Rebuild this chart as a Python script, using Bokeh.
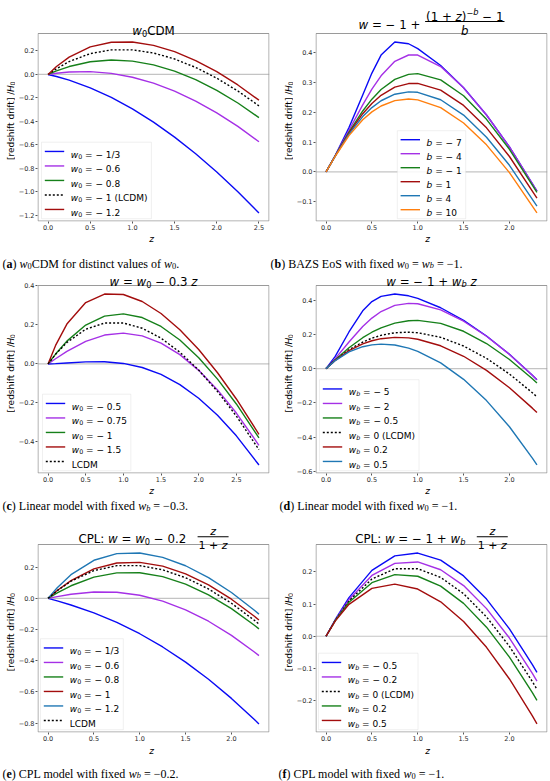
import math
from bokeh.plotting import figure
from bokeh.models import Range1d, FixedTicker, CustomJSTickFormatter, Label, Span, BoxAnnotation
from bokeh.layouts import column, row
from bokeh.embed import file_html
from bokeh.resources import INLINE

# ---------------- data: [redshift drift] / H0 ----------------
# (a) w0CDM
Z_A = [0.0, 0.1, 0.25, 0.5, 0.75, 1.0, 1.25, 1.5, 1.75, 2.0, 2.25, 2.5]
A_W0_M13 = [0.0, -0.0172, -0.0483, -0.1138, -0.1958, -0.2935, -0.4063, -0.5337, -0.6751, -0.8301, -0.9984, -1.1794]
A_W0_M06 = [0.0, 0.0104, 0.0210, 0.0244, 0.0096, -0.0233, -0.0739, -0.1417, -0.2261, -0.3264, -0.4421, -0.5726]
A_W0_M08 = [0.0, 0.0302, 0.0675, 0.1083, 0.1232, 0.1137, 0.0815, 0.0284, -0.0443, -0.1352, -0.2432, -0.3676]
A_LCDM = [0.0, 0.0492, 0.1097, 0.1778, 0.2095, 0.2098, 0.1829, 0.1321, 0.0600, -0.0315, -0.1409, -0.2670]
A_W0_M12 = [0.0, 0.0674, 0.1480, 0.2350, 0.2743, 0.2761, 0.2477, 0.1941, 0.1186, 0.0235, -0.0893, -0.2187]
A_LABELS = ["\u2212 1/3", "\u2212 0.6", "\u2212 0.8", "\u2212 1 (LCDM)", "\u2212 1.2"]
A_XTICKS = [0.0, 0.5, 1.0, 1.5, 2.0, 2.5]
A_YTICKS = [-1.2, -1.0, -0.8, -0.6, -0.4, -0.2, 0.0, 0.2]

# (b) BAZS EoS
Z_B = [0.0, 0.1, 0.25, 0.4, 0.5, 0.6, 0.75, 0.9, 1.0, 1.25, 1.5, 1.75, 2.0, 2.3]
B_M7 = [0.0, 0.0547, 0.1483, 0.2574, 0.3306, 0.3907, 0.4344, 0.4287, 0.4124, 0.3558, 0.2815, 0.1905, 0.0837, -0.0645]
B_M4 = [0.0, 0.0542, 0.1395, 0.2245, 0.2767, 0.3216, 0.3699, 0.3911, 0.3909, 0.3525, 0.2812, 0.1905, 0.0837, -0.0645]
B_M1 = [0.0, 0.0537, 0.1332, 0.2040, 0.2434, 0.2756, 0.3095, 0.3264, 0.3288, 0.3080, 0.2548, 0.1759, 0.0758, -0.0682]
B_P1 = [0.0, 0.0534, 0.1301, 0.1948, 0.2292, 0.2564, 0.2835, 0.2956, 0.2960, 0.2735, 0.2225, 0.1475, 0.0517, -0.0874]
B_P4 = [0.0, 0.0531, 0.1264, 0.1852, 0.2153, 0.2381, 0.2599, 0.2679, 0.2663, 0.2414, 0.1901, 0.1162, 0.0223, -0.1142]
B_P10 = [0.0, 0.0525, 0.1216, 0.1745, 0.2008, 0.2205, 0.2384, 0.2439, 0.2412, 0.2149, 0.1637, 0.0907, -0.0021, -0.1371]
B_LABELS = ["\u2212 7", "\u2212 4", "\u2212 1", "1", "4", "10"]
B_XTICKS = [0.0, 0.5, 1.0, 1.5, 2.0]
B_YTICKS = [-0.1, 0.0, 0.1, 0.2, 0.3, 0.4]

# (c) linear, wb = -0.3
Z_C = [0.0, 0.1, 0.25, 0.5, 0.75, 1.0, 1.25, 1.5, 1.75, 2.0, 2.25, 2.5, 2.8]
C_M05 = [0.0, 0.0017, 0.0051, 0.0104, 0.0109, 0.0025, -0.0183, -0.0540, -0.1063, -0.1759, -0.2633, -0.3685, -0.5177]
C_M075 = [0.0, 0.0267, 0.0644, 0.1159, 0.1480, 0.1577, 0.1439, 0.1068, 0.0475, -0.0329, -0.1331, -0.2518, -0.4170]
C_M1 = [0.0, 0.0505, 0.1169, 0.1991, 0.2449, 0.2565, 0.2377, 0.1920, 0.1226, 0.0319, -0.0778, -0.2052, -0.3795]
C_M15 = [0.0, 0.0948, 0.2042, 0.3144, 0.3581, 0.3557, 0.3200, 0.2585, 0.1755, 0.0736, -0.0451, -0.1796, -0.3605]
C_LCDM = [0.0, 0.0492, 0.1097, 0.1778, 0.2095, 0.2098, 0.1829, 0.1321, 0.0600, -0.0315, -0.1409, -0.2670, -0.4391]
C_LABELS = ["\u2212 0.5", "\u2212 0.75", "\u2212 1", "\u2212 1.5", None]
C_XTICKS = [0.0, 0.5, 1.0, 1.5, 2.0, 2.5]
C_YTICKS = [-0.4, -0.2, 0.0, 0.2, 0.4]

# (d) linear, w0 = -1
Z_D = [0.0, 0.1, 0.25, 0.4, 0.5, 0.6, 0.75, 0.9, 1.0, 1.25, 1.5, 1.75, 2.0, 2.25, 2.3]
D_M5 = [0.0, 0.0715, 0.2141, 0.3377, 0.3914, 0.4220, 0.4356, 0.4253, 0.4104, 0.3555, 0.2814, 0.1905, 0.0837, -0.0384, -0.0645]
D_M2 = [0.0, 0.0582, 0.1553, 0.2458, 0.2952, 0.3334, 0.3691, 0.3814, 0.3787, 0.3429, 0.2768, 0.1889, 0.0831, -0.0385, -0.0647]
D_M05 = [0.0, 0.0514, 0.1216, 0.1805, 0.2125, 0.2384, 0.2657, 0.2796, 0.2818, 0.2644, 0.2181, 0.1467, 0.0534, -0.0592, -0.0839]
D_0 = [0.0, 0.0492, 0.1097, 0.1553, 0.1778, 0.1946, 0.2095, 0.2131, 0.2098, 0.1829, 0.1321, 0.0600, -0.0315, -0.1409, -0.1648]
D_P02 = [0.0, 0.0482, 0.1049, 0.1446, 0.1628, 0.1749, 0.1828, 0.1794, 0.1715, 0.1335, 0.0722, -0.0100, -0.1115, -0.2308, -0.2567]
D_P05 = [0.0, 0.0469, 0.0974, 0.1281, 0.1389, 0.1430, 0.1377, 0.1197, 0.1012, 0.0338, -0.0624, -0.1868, -0.3396, -0.5223, -0.5626]
D_LABELS = ["\u2212 5", "\u2212 2", "\u2212 0.5", "0 (LCDM)", "0.2", "0.5"]
D_XTICKS = [0.0, 0.5, 1.0, 1.5, 2.0]
D_YTICKS = [-0.6, -0.4, -0.2, 0.0, 0.2, 0.4]

# (e) CPL, wb = -0.2
Z_E = [0.0, 0.1, 0.25, 0.5, 0.75, 1.0, 1.25, 1.5, 1.75, 2.0, 2.25, 2.3]
E_M13 = [0.0, -0.0162, -0.0426, -0.0935, -0.1546, -0.2271, -0.3119, -0.4091, -0.5191, -0.6418, -0.7771, -0.8057]
E_M06 = [0.0, 0.0113, 0.0260, 0.0405, 0.0390, 0.0197, -0.0179, -0.0736, -0.1469, -0.2374, -0.3442, -0.3675]
E_M08 = [0.0, 0.0349, 0.0807, 0.1362, 0.1636, 0.1640, 0.1392, 0.0914, 0.0224, -0.0661, -0.1726, -0.1960]
E_M1 = [0.0, 0.0500, 0.1139, 0.1889, 0.2264, 0.2308, 0.2065, 0.1573, 0.0858, -0.0056, -0.1153, -0.1393]
E_M12 = [0.0, 0.0683, 0.1518, 0.2440, 0.2868, 0.2905, 0.2627, 0.2090, 0.1329, 0.0372, -0.0765, -0.1013]
E_LCDM = [0.0, 0.0492, 0.1097, 0.1778, 0.2095, 0.2098, 0.1829, 0.1321, 0.0600, -0.0315, -0.1409, -0.1648]
E_LABELS = ["\u2212 1/3", "\u2212 0.6", "\u2212 0.8", "\u2212 1", "\u2212 1.2", None]
E_XTICKS = [0.0, 0.5, 1.0, 1.5, 2.0]
E_YTICKS = [-0.8, -0.6, -0.4, -0.2, 0.0, 0.2]

# (f) CPL, w0 = -1
Z_F = [0.0, 0.1, 0.25, 0.5, 0.75, 1.0, 1.25, 1.5, 1.75, 2.0, 2.25, 2.3]
F_M05 = [0.0, 0.0513, 0.1200, 0.2047, 0.2497, 0.2585, 0.2363, 0.1874, 0.1154, 0.0229, -0.0882, -0.1125]
F_M02 = [0.0, 0.0500, 0.1139, 0.1889, 0.2264, 0.2308, 0.2065, 0.1573, 0.0858, -0.0056, -0.1153, -0.1393]
F_0 = [0.0, 0.0492, 0.1097, 0.1778, 0.2095, 0.2098, 0.1829, 0.1321, 0.0600, -0.0315, -0.1409, -0.1648]
F_P02 = [0.0, 0.0483, 0.1055, 0.1664, 0.1914, 0.1864, 0.1556, 0.1021, 0.0281, -0.0647, -0.1750, -0.1990]
F_P05 = [0.0, 0.0470, 0.0992, 0.1486, 0.1619, 0.1466, 0.1069, 0.0459, -0.0345, -0.1328, -0.2477, -0.2726]
F_LABELS = ["\u2212 0.5", "\u2212 0.2", "0 (LCDM)", "0.2", "0.5"]
F_XTICKS = [0.0, 0.5, 1.0, 1.5, 2.0]
F_YTICKS = [-0.2, -0.1, 0.0, 0.1, 0.2]

# ---------------- style ----------------
BLUE = "#0a0af5"
PURPLE = "#a530e6"
GREEN = "#16801a"
RED = "#a30d0d"
TBLUE = "#1f77b4"
ORANGE = "#ff7f0e"
BLACK = "#000000"
SOLID = "solid"
DOT = "2 2"
LW = 1.4

SANS = "DejaVu Sans"
SERIF = "Liberation Serif"
FW, FH = 232, 188          # plot-area size in px
PAGE_W = 550
BOTTOM = 12                # room for the x tick labels

SANS_ADV = {' ': 0.318, '(': 0.390, ')': 0.390, '+': 0.838, '=': 0.838, '\u2212': 0.838, '.': 0.318,
            '/': 0.337, ':': 0.337, '[': 0.390, ']': 0.390, 'A': 0.684, 'B': 0.686, 'C': 0.698,
            'D': 0.770, 'L': 0.557, 'M': 0.863, 'P': 0.603, 'H': 0.752, 'a': 0.613, 'b': 0.635,
            'c': 0.550, 'd': 0.635, 'e': 0.615, 'f': 0.352, 'h': 0.634, 'i': 0.278, 'l': 0.278,
            'n': 0.634, 'o': 0.612, 'r': 0.411, 's': 0.521, 't': 0.392, 'u': 0.634, 'w': 0.818,
            'z': 0.525}
for _d in "0123456789":
    SANS_ADV[_d] = 0.636
SERIF_R = {' ': 0.25, '(': 0.333, ')': 0.333, '.': 0.25, '=': 0.564, '\u2212': 0.564, '+': 0.564,
           'A': 0.722, 'B': 0.667, 'C': 0.667, 'D': 0.722, 'E': 0.611, 'L': 0.611, 'M': 0.889,
           'P': 0.556, 'S': 0.556, 'Z': 0.611, 'a': 0.444, 'b': 0.5, 'c': 0.444, 'd': 0.5, 'e': 0.444,
           'f': 0.333, 'h': 0.5, 'i': 0.278, 'l': 0.278, 'm': 0.778, 'n': 0.5, 'o': 0.5, 'r': 0.333,
           's': 0.389, 't': 0.278, 'u': 0.5, 'v': 0.5, 'w': 0.722, 'x': 0.5, 'z': 0.444}
for _d in "0123456789":
    SERIF_R[_d] = 0.5
SERIF_B = {'a': 0.5, 'b': 0.556, 'c': 0.444, 'd': 0.556, 'e': 0.444, 'f': 0.333}
SERIF_I = {'w': 0.667, 'b': 0.5, 'z': 0.389}

STYLE = {"r": "normal", "b": "bold", "i": "italic", "sub": "normal", "subi": "italic",
         "sup": "normal", "supi": "italic"}
SHIFT = {"sub": 0.2, "subi": 0.2, "sup": -0.4, "supi": -0.4}


def run_width(text, fam, kind, size):
    scale = 0.7 if kind in SHIFT else 1.0
    total = 0.0
    for ch in text:
        if fam == SANS:
            total += SANS_ADV.get(ch, 0.6)
        else:
            tab = {"normal": SERIF_R, "bold": SERIF_B, "italic": SERIF_I}[STYLE[kind]]
            total += tab.get(ch, SERIF_R.get(ch, 0.5))
    return total * size * scale


def runs_width(runs, fam, size):
    return sum(run_width(t, fam, k, size) for t, k in runs)


def rich(p, runs, px, py, size, fam, conv, align="left", angle=0.0, color="black"):
    """Place a sequence of styled text runs; leading blanks are turned into offsets
    because SVG text drops them."""
    total = runs_width(runs, fam, size)
    pos = {"left": 0.0, "center": -total / 2, "right": -total}[align]
    ca, sa = math.cos(angle), math.sin(angle)
    for text, kind in runs:
        s = size * (0.7 if kind in SHIFT else 1.0)
        shift = SHIFT.get(kind, 0.0) * size
        body = text.strip(" ")
        lead = run_width(text[:len(text) - len(text.lstrip(" "))], fam, kind, size)
        if body:
            q = pos + lead
            x = px + q * ca + shift * sa
            y = py - q * sa + shift * ca
            X, Y = conv(x, y)
            p.add_layout(Label(x=X, y=Y, text=body, text_font=fam, text_font_size="%.2fpx" % s,
                               text_font_style=STYLE[kind], text_color=color,
                               text_baseline="alphabetic", text_align="left", angle=angle))
        pos += run_width(text, fam, kind, size)
    return total


def hbar(p, conv, xa, xb, py, th=0.9):
    X1, Y1 = conv(xa, py - th / 2)
    X2, Y2 = conv(xb, py + th / 2)
    p.add_layout(BoxAnnotation(left=X1, right=X2, top=Y1, bottom=Y2, fill_color="black",
                               fill_alpha=1.0, line_alpha=0.0))


def padded(lo, hi, frac=0.05):
    s = hi - lo
    return lo - frac * s, hi + frac * s


def strip(width, height):
    """A text-only canvas whose frame is the whole canvas (pixel coordinates, y down)."""
    s = figure(width=width, height=height, x_range=Range1d(0, width), y_range=Range1d(0, height),
               toolbar_location=None, output_backend="svg", title=None,
               x_axis_location=None, y_axis_location=None, min_border=0)
    s.outline_line_color = None
    s.xgrid.visible = False
    s.ygrid.visible = False
    s.background_fill_color = "white"
    s.border_fill_color = "white"

    def conv(px, py):
        return px, height - py
    return s, conv


def make_panel(z, series, xticks, yticks, right, top_ext):
    """Frame = title band (top_ext px) + plot area (FW x FH)."""
    allv = [v for vals, _, _ in series for v in vals]
    x0, x1 = padded(min(z), max(z))
    y0, y1 = padded(min(allv), max(allv))
    ytop = y1 + top_ext / FH * (y1 - y0)
    p = figure(frame_width=FW, frame_height=FH + top_ext, x_range=Range1d(x0, x1),
               y_range=Range1d(y0, ytop), toolbar_location=None, output_backend="svg", title=None,
               min_border_left=20, min_border_right=right, min_border_top=0,
               min_border_bottom=BOTTOM)
    p.xgrid.visible = False
    p.ygrid.visible = False
    p.outline_line_color = None
    p.background_fill_color = "white"
    p.border_fill_color = "white"
    for ax, ticks in ((p.xaxis[0], xticks), (p.yaxis[0], yticks)):
        ax.ticker = FixedTicker(ticks=ticks)
        ax.formatter = CustomJSTickFormatter(code="return tick.toFixed(1).replace('-', '\u2212');")
        ax.axis_line_color = None
        ax.major_tick_in = 0
        ax.major_tick_out = 2
        ax.major_tick_line_color = "#555555"
        ax.minor_tick_line_color = None
        ax.major_label_text_font = SANS
        ax.major_label_text_font_size = "6.5px"
        ax.major_label_text_color = "#2a2a2a"
        ax.major_label_standoff = 1

    def conv(px, py):
        return x0 + px / FW * (x1 - x0), y1 - py / FH * (y1 - y0)

    p.add_layout(Span(location=0, dimension="width", line_color="#c4c4c4", line_width=1.2,
                      level="underlay"))
    for vals, color, dash in series:
        p.line(z, vals, line_color=color, line_width=LW, line_dash=dash)
    # axes box of the plot area (kept half a pixel inside the frame edges)
    bl, bb = conv(0.5, FH - 0.5)
    br, bt = conv(FW - 0.5, 0.0)
    p.quad(left=[bl], right=[br], bottom=[bb], top=[bt], fill_color=None,
           line_color="#9a9a9a", line_width=1)
    return p, conv


def ylabel_strip(height, center):
    s, k = strip(15, height)
    rich(s, [("[redshift drift] / ", "r"), ("H", "i"), ("0", "sub")], 10.3, center, 9.0,
         SANS, k, align="center", angle=math.pi / 2)
    return s


def entry_runs(var, sub, val):
    if val is None:
        return [("LCDM", "r")]
    runs = [(var, "i")]
    if sub:
        runs.append((sub, "subi" if sub.isalpha() else "sub"))
    runs.append((" = " + val, "r"))
    return runs


def legend(p, conv, series, labels, var, sub, left=4.0, center=False, size=9.0, spacing=14.5):
    entries = [(entry_runs(var, sub, lab), c, d) for lab, (_, c, d) in zip(labels, series)]
    widths = [runs_width(r, SANS, size) for r, _, _ in entries]
    box_w = 29.3 + max(widths) + 4.0
    box_h = len(entries) * spacing + 4.0
    if center:
        left = (FW - box_w) / 2
    bottom = FH - 2.8
    top = bottom - box_h
    bl, bt = conv(left, top)
    br, bb = conv(left + box_w, bottom)
    p.add_layout(BoxAnnotation(left=bl, right=br, top=bt, bottom=bb, fill_color="white",
                               fill_alpha=0.85, line_color="#cccccc", line_width=1))
    for i, (runs, color, dash) in enumerate(entries):
        cy = top + 2.0 + spacing * (i + 0.5)
        xa, ya = conv(left + 3.3, cy)
        xb, _ = conv(left + 22.7, cy)
        p.segment(x0=[xa], y0=[ya], x1=[xb], y1=[ya], line_color=color, line_width=LW,
                  line_dash=dash, level="overlay")
        rich(p, runs, left + 29.3, cy + 0.34 * size, size, SANS, conv)


TS = 11.8   # title size
FS = 11.0   # fraction size
CS = 12.0   # caption size
XL = 9.0    # x label size

TOP1, TOP2, TOP3 = 33, 15, 24

# ---------------- row 1 ----------------
SA = [(A_W0_M13, BLUE, SOLID), (A_W0_M06, PURPLE, SOLID), (A_W0_M08, GREEN, SOLID),
      (A_LCDM, BLACK, DOT), (A_W0_M12, RED, SOLID)]
pa, ca = make_panel(Z_A, SA, A_XTICKS, A_YTICKS, 9, TOP1)
rich(pa, [("w", "i"), ("0", "sub"), ("CDM", "r")], FW / 2, -2.5, TS, SANS, ca, align="center")
legend(pa, ca, SA, A_LABELS, "w", "0")

SB = [(B_M7, BLUE, SOLID), (B_M4, PURPLE, SOLID), (B_M1, GREEN, SOLID), (B_P1, RED, SOLID),
      (B_P4, TBLUE, SOLID), (B_P10, ORANGE, SOLID)]
pb, cb = make_panel(Z_B, SB, B_XTICKS, B_YTICKS, 7, TOP1)
main_b = [("w", "i"), (" = \u2212 1 + ", "r")]
num_b = [("(1 + ", "r"), ("z", "i"), (")", "r"), ("\u2212", "sup"), ("b", "supi"), (" \u2212 1", "r")]
wm = runs_width(main_b, SANS, TS)
wn = runs_width(num_b, SANS, TS)
st = FW / 2 - (wm + 3.0 + wn) / 2
rich(pb, main_b, st, -9.0, TS, SANS, cb)
hbar(pb, cb, st + wm + 1.0, st + wm + 3.0 + wn, -12.0)
rich(pb, num_b, st + wm + 2.0, -16.3, TS, SANS, cb)
rich(pb, [("b", "i")], st + wm + 2.0 + wn / 2, -2.4, TS, SANS, cb, align="center")
legend(pb, cb, SB, B_LABELS, "b", None, center=True, spacing=14.0)

# ---------------- row 2 ----------------
SC = [(C_M05, BLUE, SOLID), (C_M075, PURPLE, SOLID), (C_M1, GREEN, SOLID), (C_M15, RED, SOLID),
      (C_LCDM, BLACK, DOT)]
pc, cc = make_panel(Z_C, SC, C_XTICKS, C_YTICKS, 9, TOP2)
rich(pc, [("w", "i"), (" = ", "r"), ("w", "i"), ("0", "sub"), (" \u2212 0.3 ", "r"), ("z", "i")],
     FW / 2, -3.6, TS, SANS, cc, align="center")
legend(pc, cc, SC, C_LABELS, "w", "0", left=5.0)

SD = [(D_M5, BLUE, SOLID), (D_M2, PURPLE, SOLID), (D_M05, GREEN, SOLID), (D_0, BLACK, DOT),
      (D_P02, RED, SOLID), (D_P05, TBLUE, SOLID)]
pd_, cd = make_panel(Z_D, SD, D_XTICKS, D_YTICKS, 7, TOP2)
rich(pd_, [("w", "i"), (" = \u2212 1 + ", "r"), ("w", "i"), ("b", "subi"), (" ", "r"), ("z", "i")],
     FW / 2, -3.6, TS, SANS, cd, align="center")
legend(pd_, cd, SD, D_LABELS, "w", "b")


# ---------------- row 3 ----------------
def cpl_title(p, conv, main):
    num = [("z", "i")]
    den = [("1 + ", "r"), ("z", "i")]
    wmain = runs_width(main, SANS, TS)
    wden = runs_width(den, SANS, FS)
    gap = 11.4
    s0_ = FW / 2 - (wmain + gap + wden + 2.0) / 2
    rich(p, main, s0_, -5.3, TS, SANS, conv)
    fx = s0_ + wmain + gap
    hbar(p, conv, fx, fx + wden + 2.0, -7.7)
    rich(p, num, fx + 1.0 + wden / 2, -13.0, FS, SANS, conv, align="center")
    rich(p, den, fx + 1.0, 1.0, FS, SANS, conv)


SE = [(E_M13, BLUE, SOLID), (E_M06, PURPLE, SOLID), (E_M08, GREEN, SOLID), (E_M1, RED, SOLID),
      (E_M12, TBLUE, SOLID), (E_LCDM, BLACK, DOT)]
pe, ce = make_panel(Z_E, SE, E_XTICKS, E_YTICKS, 9, TOP3)
cpl_title(pe, ce, [("CPL: ", "r"), ("w", "i"), (" = ", "r"), ("w", "i"), ("0", "sub"),
                   (" \u2212 0.2", "r")])
legend(pe, ce, SE, E_LABELS, "w", "0", left=3.0)

SF = [(F_M05, BLUE, SOLID), (F_M02, PURPLE, SOLID), (F_0, BLACK, DOT), (F_P02, GREEN, SOLID),
      (F_P05, RED, SOLID)]
pf, cf = make_panel(Z_F, SF, F_XTICKS, F_YTICKS, 7, TOP3)
cpl_title(pf, cf, [("CPL: ", "r"), ("w", "i"), (" = \u2212 1 + ", "r"), ("w", "i"), ("b", "subi")])
legend(pf, cf, SF, F_LABELS, "w", "b", left=3.0)

# ---------------- strips: x labels and captions ----------------
CX_L = 35 + FW / 2
CX_R = 311 + FW / 2

s1, k1 = strip(PAGE_W, 37)
rich(s1, [("z", "i")], CX_L, 5.6, XL, SANS, k1, align="center")
rich(s1, [("z", "i")], CX_R, 5.6, XL, SANS, k1, align="center")
rich(s1, [("(", "r"), ("a", "b"), (") ", "r"), ("w", "i"), ("0", "sub"),
          ("CDM for distinct values of ", "r"), ("w", "i"), ("0", "sub"), (".", "r")],
     2, 30.0, CS, SERIF, k1)
rich(s1, [("(", "r"), ("b", "b"), (") BAZS EoS with fixed ", "r"), ("w", "i"), ("0", "sub"),
          (" = ", "r"), ("w", "i"), ("b", "subi"), (" = \u22121.", "r")],
     270, 30.0, CS, SERIF, k1)

s2, k2 = strip(PAGE_W, 35)
rich(s2, [("z", "i")], CX_L, 5.4, XL, SANS, k2, align="center")
rich(s2, [("z", "i")], CX_R, 5.4, XL, SANS, k2, align="center")
rich(s2, [("(", "r"), ("c", "b"), (") Linear model with fixed ", "r"), ("w", "i"), ("b", "subi"),
          (" = \u22120.3.", "r")], 2, 20.5, CS, SERIF, k2)
rich(s2, [("(", "r"), ("d", "b"), (") Linear model with fixed ", "r"), ("w", "i"), ("0", "sub"),
          (" = \u22121.", "r")], 279, 20.5, CS, SERIF, k2)

s3, k3 = strip(PAGE_W, 37)
rich(s3, [("z", "i")], CX_L, 6.0, XL, SANS, k3, align="center")
rich(s3, [("z", "i")], CX_R, 6.0, XL, SANS, k3, align="center")
rich(s3, [("(", "r"), ("e", "b"), (") CPL model with fixed ", "r"), ("w", "i"), ("b", "subi"),
          (" = \u22120.2.", "r")], 2, 29.0, CS, SERIF, k3)
rich(s3, [("(", "r"), ("f", "b"), (") CPL model with fixed ", "r"), ("w", "i"), ("0", "sub"),
          (" = \u22121.", "r")], 278, 29.0, CS, SERIF, k3)

H1, H2, H3 = TOP1 + FH + BOTTOM, TOP2 + FH + BOTTOM, TOP3 + FH + BOTTOM
layout = column(
    row(ylabel_strip(H1, TOP1 + FH / 2), pa, ylabel_strip(H1, TOP1 + FH / 2), pb),
    s1,
    row(ylabel_strip(H2, TOP2 + FH / 2), pc, ylabel_strip(H2, TOP2 + FH / 2), pd_),
    s2,
    row(ylabel_strip(H3, TOP3 + FH / 2), pe, ylabel_strip(H3, TOP3 + FH / 2), pf),
    s3,
)

with open("out.html", "w", encoding="utf-8") as fh:
    fh.write(file_html(layout, INLINE))
